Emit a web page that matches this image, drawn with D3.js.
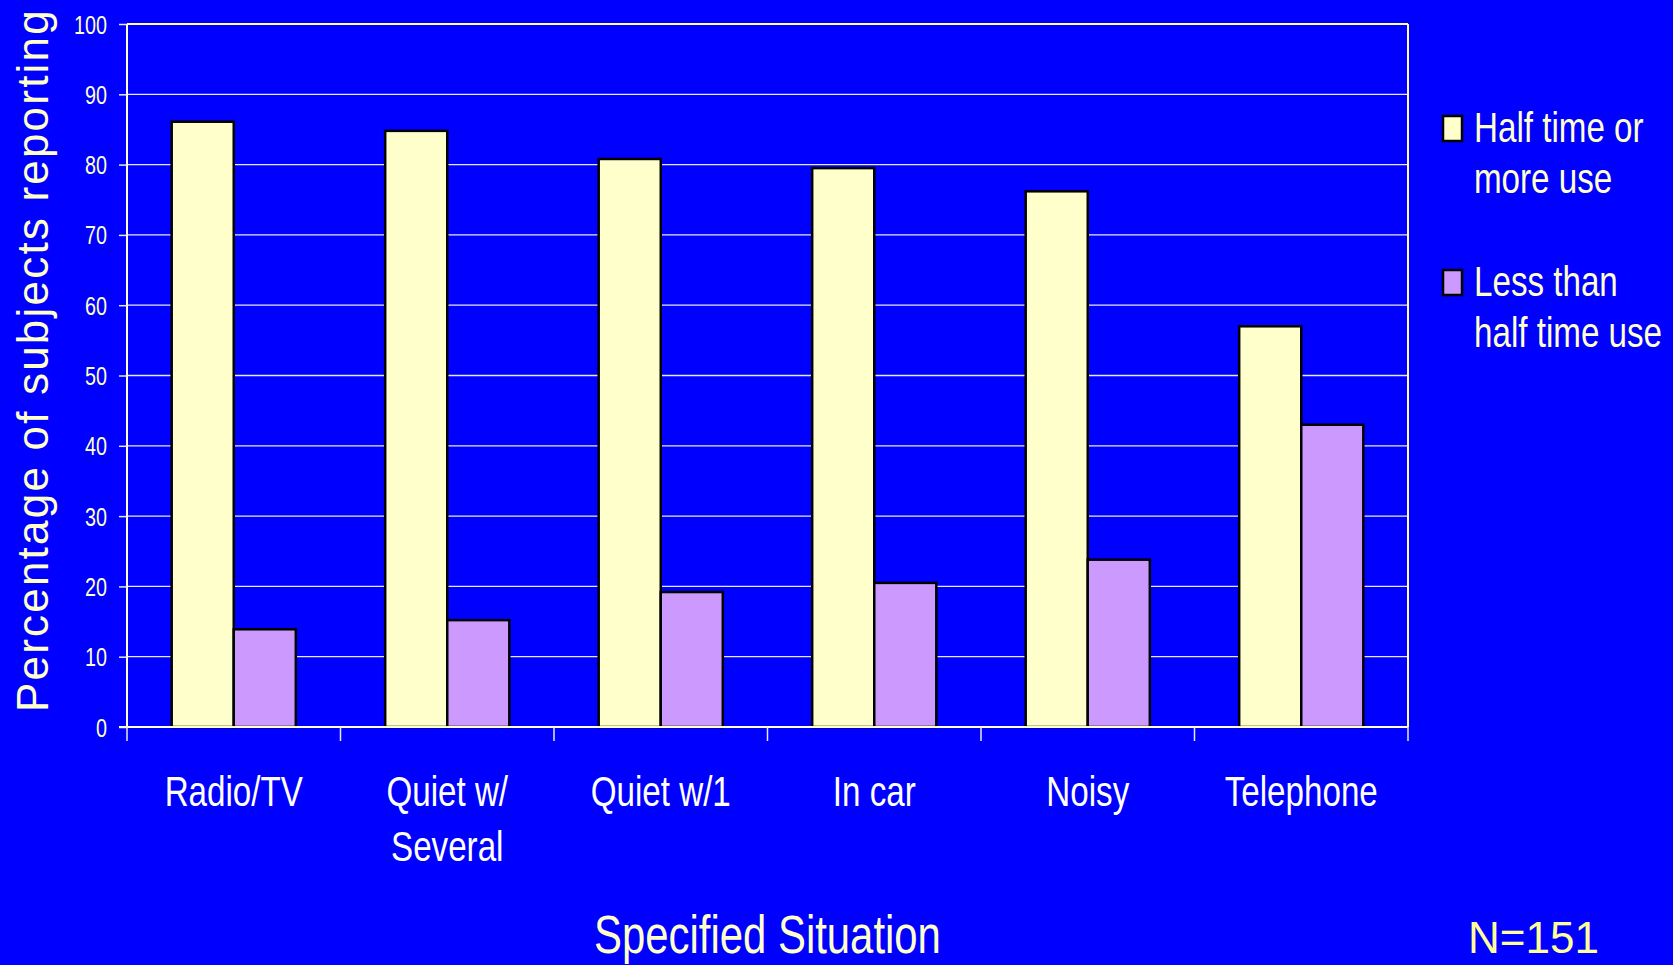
<!DOCTYPE html>
<html>
<head>
<meta charset="utf-8">
<script src="https://cdn.jsdelivr.net/npm/d3@7"></script>
<style>
  html, body { margin: 0; padding: 0; background: #0000FF; }
  svg { display: block; }
  text { font-family: "Liberation Sans", Arial, sans-serif; }
</style>
</head>
<body>
<svg id="chart" width="1673" height="965"></svg>
<script>
const categories = ["Radio/TV", "Quiet w/\nSeveral", "Quiet w/1", "In car", "Noisy", "Telephone"];
const seriesNames = ["Half time or\nmore use", "Less than\nhalf time use"];
const halfOrMore = [86.1, 84.8, 80.8, 79.5, 76.2, 57.0];
const lessThanHalf = [13.9, 15.2, 19.2, 20.5, 23.8, 43.0];
const yTicks = [0, 10, 20, 30, 40, 50, 60, 70, 80, 90, 100];
const seriesColors = ["#FFFFCC", "#CC99FF"];
const yTitle = "Percentage of subjects reporting";
const xTitle = "Specified Situation";
const note = "N=151";

(function () {
const seriesValues = [halfOrMore, lessThanHalf];
const svg = d3.select("#chart");
const W = 1673, H = 965;
const NARROW = 0.79;
svg.append("rect").attr("width", W).attr("height", H).attr("fill", "#0000FF");

const pL = 127, pR = 1408, pT = 24, pB = 727;
const textCol = "#FFFFCC";

const x = d3.scaleBand().domain(categories).range([pL, pR]).paddingInner(0).paddingOuter(0);
const xs = d3.scaleBand().domain([0, 1]).range([0, x.bandwidth()]).paddingInner(0).paddingOuter(0.72);
const y = d3.scaleLinear().domain([0, 100]).range([pB, pT]);

// gridlines
svg.append("g").selectAll("line").data(yTicks.filter(d => d > 0)).join("line")
  .attr("x1", pL).attr("x2", pR)
  .attr("y1", d => y(d)).attr("y2", d => y(d))
  .attr("stroke", d => d === 100 ? textCol : "#E8E8F0").attr("stroke-width", d => d === 100 ? 2 : 1.3);

// right border
svg.append("line").attr("x1", pR).attr("x2", pR).attr("y1", pT).attr("y2", pB)
  .attr("stroke", textCol).attr("stroke-width", 2);

// bars
const groups = svg.append("g").selectAll("g").data(categories).join("g")
  .attr("transform", d => `translate(${x(d)},0)`);
groups.selectAll("rect").data((d, i) => seriesValues.map((s, k) => ({k, v: s[i]}))).join("rect")
  .attr("x", d => xs(d.k))
  .attr("width", xs.bandwidth())
  .attr("y", d => y(d.v))
  .attr("height", d => y(0) - y(d.v))
  .attr("fill", d => seriesColors[d.k])
  .attr("stroke", "#000").attr("stroke-width", 2.5);

// y axis
const yAxis = svg.append("g").attr("transform", `translate(${pL},0)`)
  .call(d3.axisLeft(y).tickValues(yTicks).tickSize(8).tickPadding(12));
yAxis.select(".domain").attr("stroke", textCol).attr("stroke-width", 2).attr("d", `M0,${pT}V${pB}`);
yAxis.selectAll(".tick line").attr("stroke", "#E8E8F0").attr("stroke-width", 1.5);
yAxis.selectAll(".tick text")
  .attr("fill", textCol)
  .attr("font-size", 25)
  .attr("font-family", "'Liberation Sans', Arial, sans-serif")
  .attr("x", 0)
  .attr("dy", "0.36em")
  .attr("transform", `translate(-20,0) scale(${NARROW},1)`);

// x axis
const xAxis = svg.append("g").attr("transform", `translate(0,${pB})`)
  .call(d3.axisBottom(x).tickSize(0).tickFormat(""));
xAxis.select(".domain").attr("stroke", textCol).attr("stroke-width", 2).attr("d", `M${pL - 8},0H${pR}`);
xAxis.selectAll(".tick").remove();
const bounds = categories.map(c => x(c)).concat([pR]);
svg.append("g").selectAll("line").data(bounds).join("line")
  .attr("x1", d => d).attr("x2", d => d).attr("y1", pB).attr("y2", pB + 14)
  .attr("stroke", "#E8E8F0").attr("stroke-width", 1.5);

// category labels
const catG = svg.append("g").selectAll("text").data(categories).join("text")
  .attr("transform", d => `translate(${x(d) + x.bandwidth() / 2},806) scale(${NARROW},1)`)
  .attr("text-anchor", "middle")
  .attr("fill", "#FFFFFF")
  .attr("font-size", 42);
catG.each(function(d) {
  const t = d3.select(this);
  d.split("\n").forEach((line, i) => {
    t.append("tspan").attr("x", 0).attr("dy", i === 0 ? 0 : 55).text(line);
  });
});

// x title
svg.append("text")
  .attr("transform", `translate(${(pL + pR) / 2},953) scale(${NARROW},1)`)
  .attr("text-anchor", "middle").attr("fill", textCol).attr("font-size", 53)
  .text(xTitle);

// y title
svg.append("text")
  .attr("transform", `translate(48,712) rotate(-90)`)
  .attr("text-anchor", "start")
  .attr("fill", textCol)
  .attr("font-size", 44)
  .attr("letter-spacing", 2.2)
  .text(yTitle);

// legend
const legend = svg.append("g").selectAll("g").data(seriesNames).join("g")
  .attr("transform", (d, i) => `translate(1443,${116 + i * 154})`);
legend.append("rect").attr("width", 19).attr("height", 25)
  .attr("fill", (d, i) => seriesColors[i]).attr("stroke", "#000").attr("stroke-width", 2.5);
legend.append("text")
  .attr("transform", `translate(31,26) scale(${NARROW},1)`)
  .attr("fill", textCol).attr("font-size", 42)
  .each(function(d) {
    const t = d3.select(this);
    d.split("\n").forEach((line, i) => {
      t.append("tspan").attr("x", 0).attr("dy", i === 0 ? 0 : 51).text(line);
    });
  });

// note
svg.append("text")
  .attr("x", 1468).attr("y", 953)
  .attr("fill", "#FFFF99")
  .attr("font-size", 44)
  .text(note);
})();
</script>
</body>
</html>
